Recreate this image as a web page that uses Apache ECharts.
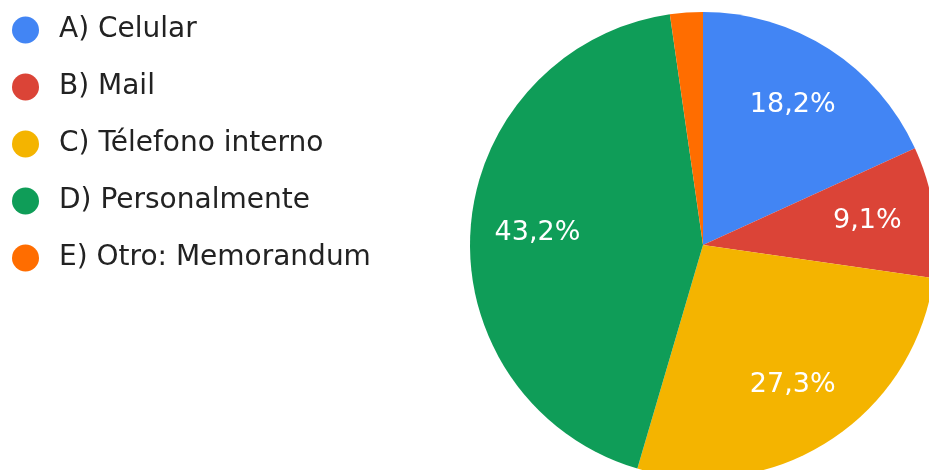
<!DOCTYPE html>
<html>
<head>
<meta charset="utf-8">
<script src="https://cdn.jsdelivr.net/npm/echarts@6/dist/echarts.min.js"></script>
<style>
  html, body { margin: 0; padding: 0; background: #ffffff; }
  #chart { width: 929px; height: 470px; }
</style>
</head>
<body>
<div id="chart"></div>
<script>
// Answer options and the number of responses for each
const categories = ['A) Celular', 'B) Mail', 'C) Télefono interno', 'D) Personalmente', 'E) Otro: Memorandum'];
const responses = [8, 4, 12, 19, 1];
const colors = ['#4285f4', '#db4437', '#f4b400', '#0f9d58', '#ff6d00'];

const pieData = categories.map((name, i) => ({ name, value: responses[i] }));
const total = responses.reduce((a, b) => a + b, 0);

function pctLabel(p) {
  const share = p.value / total * 100;
  if (share < 5) return '';
  return share.toFixed(1).replace('.', ',') + '%';
}

const chart = echarts.init(document.getElementById('chart'));
chart.setOption({
  color: colors,
  animation: false,
  textStyle: { fontFamily: 'DejaVu Sans' },
  legend: {
    orient: 'vertical',
    left: 12,
    top: 16,
    padding: 0,
    icon: 'circle',
    itemWidth: 27,
    itemHeight: 27,
    itemGap: 29,
    textStyle: {
      fontSize: 28,
      lineHeight: 27,
      color: '#222222',
      fontFamily: 'DejaVu Sans',
      padding: [0, 0, 0, 15]
    },
    data: categories
  },
  series: [
    {
      // the slices
      type: 'pie',
      center: [703, 245],
      radius: [0, 233],
      startAngle: 90,
      clockwise: true,
      label: { show: false },
      labelLine: { show: false },
      itemStyle: { borderWidth: 0 },
      data: pieData
    },
    {
      // transparent ring carrying the percentage labels further out
      type: 'pie',
      center: [703, 245],
      radius: [93, 233],
      startAngle: 90,
      clockwise: true,
      silent: true,
      legendHoverLink: false,
      itemStyle: { color: 'rgba(0,0,0,0)' },
      label: {
        show: true,
        position: 'inside',
        formatter: pctLabel,
        color: '#ffffff',
        fontSize: 27,
        fontFamily: 'DejaVu Sans'
      },
      labelLine: { show: false },
      data: pieData
    }
  ]
});
</script>
</body>
</html>
